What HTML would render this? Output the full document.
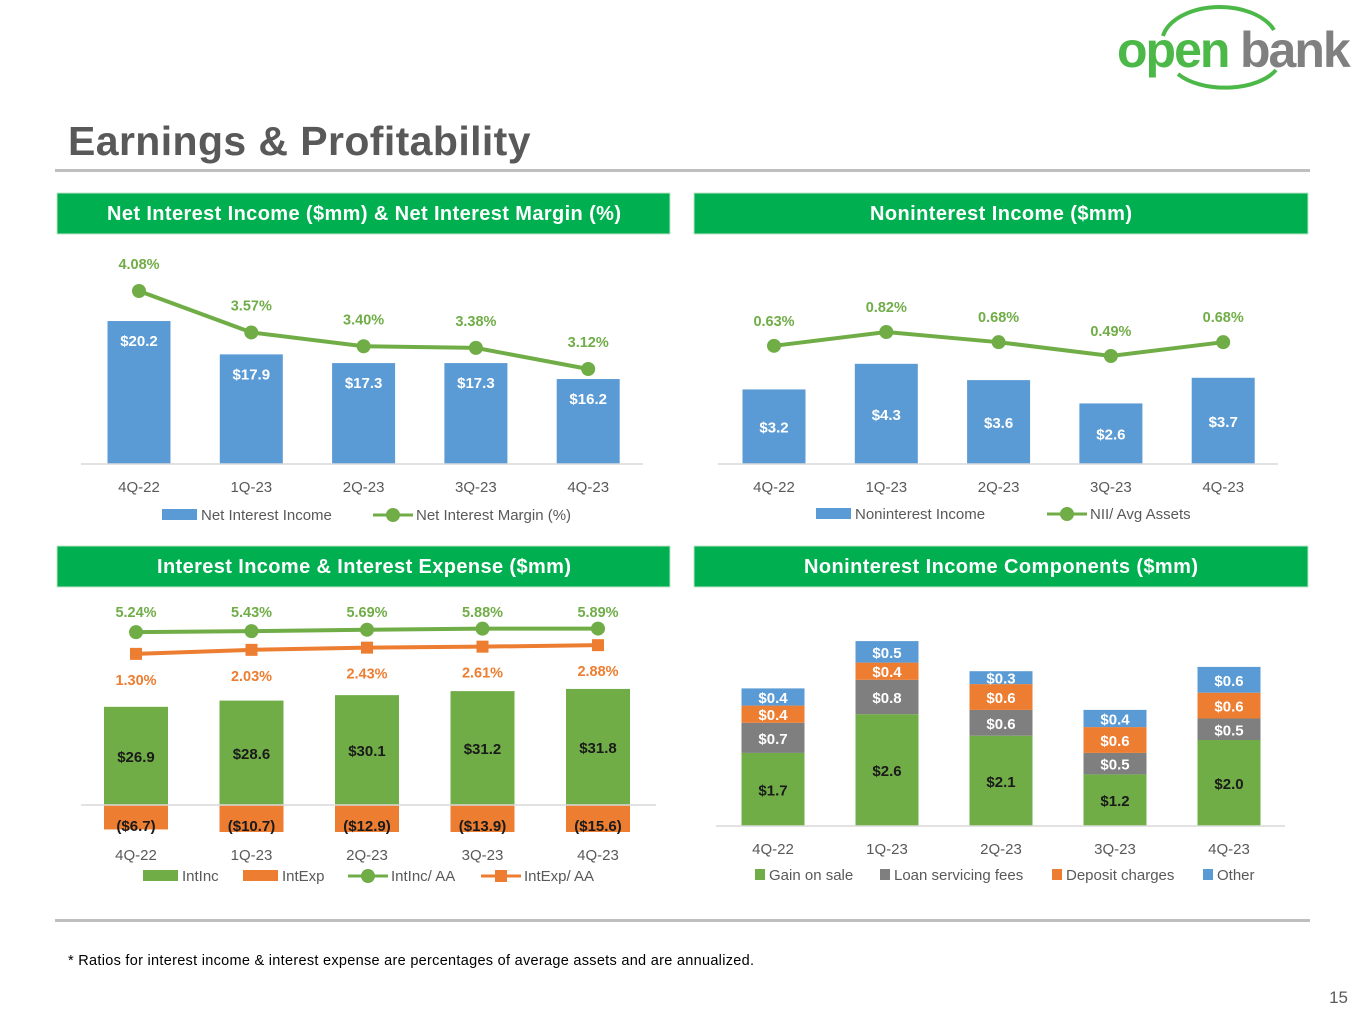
<!DOCTYPE html>
<html><head><meta charset="utf-8"><style>
body{margin:0;background:#fff;font-family:"Liberation Sans",sans-serif}
svg text{font-family:"Liberation Sans",sans-serif}
</style></head><body>
<svg id="s" width="1365" height="1024" viewBox="0 0 1365 1024" xmlns="http://www.w3.org/2000/svg">
<g>
<path d="M1163 36 A58 36 0 0 1 1274 30" fill="none" stroke="#4cb848" stroke-width="4"/>
<path d="M1178 74 A56 30 0 0 0 1276 70" fill="none" stroke="#4cb848" stroke-width="4"/>
<text x="1117" y="67" font-size="50" font-weight="bold" fill="#4cb848" letter-spacing="-2">open</text>
<text x="1240" y="67" font-size="50" font-weight="bold" fill="#808080" letter-spacing="-2">bank</text>
</g>
<text x="68" y="155" font-size="41" font-weight="bold" fill="#595959" letter-spacing="0.4">Earnings &amp; Profitability</text>
<rect x="55" y="169" width="1255" height="3" fill="#bfbfbf"/>
<rect x="55" y="919" width="1255" height="3" fill="#bfbfbf"/>
<text x="68" y="965" font-size="14.5" fill="#000" textLength="686">* Ratios for interest income &amp; interest expense are percentages of average assets and are annualized.</text>
<text x="1348" y="1003" font-size="17" fill="#595959" text-anchor="end">15</text>
<g><rect x="57" y="193" width="613" height="41" fill="#00b050" stroke="#bfe5c9"/><text x="364" y="220" font-size="20" font-weight="bold" fill="#fff" text-anchor="middle" textLength="514">Net Interest Income ($mm) &amp; Net Interest Margin (%)</text></g>
<g><rect x="694" y="193" width="614" height="41" fill="#00b050" stroke="#bfe5c9"/><text x="1001" y="220" font-size="20" font-weight="bold" fill="#fff" text-anchor="middle" textLength="262">Noninterest Income ($mm)</text></g>
<g><rect x="57" y="546" width="613" height="41" fill="#00b050" stroke="#bfe5c9"/><text x="364" y="573" font-size="20" font-weight="bold" fill="#fff" text-anchor="middle" textLength="414">Interest Income &amp; Interest Expense ($mm)</text></g>
<g><rect x="694" y="546" width="614" height="41" fill="#00b050" stroke="#bfe5c9"/><text x="1001" y="573" font-size="20" font-weight="bold" fill="#fff" text-anchor="middle" textLength="394">Noninterest Income Components ($mm)</text></g>
</svg>
<script>
const categories=["4Q-22","1Q-23","2Q-23","3Q-23","4Q-23"];
const niiValues=[20.2,17.9,17.3,17.3,16.2];
const nimValues=[4.08,3.57,3.40,3.38,3.12];
const nonintValues=[3.2,4.3,3.6,2.6,3.7];
const niiAvgValues=[0.63,0.82,0.68,0.49,0.68];
const intIncValues=[26.9,28.6,30.1,31.2,31.8];
const intExpValues=[-6.7,-10.7,-12.9,-13.9,-15.6];
const intIncAAValues=[5.24,5.43,5.69,5.88,5.89];
const intExpAAValues=[1.30,2.03,2.43,2.61,2.88];
const gainValues=[1.7,2.6,2.1,1.2,2.0];
const servicingValues=[0.7,0.8,0.6,0.5,0.5];
const depositValues=[0.4,0.4,0.6,0.6,0.6];
const otherValues=[0.4,0.5,0.3,0.4,0.6];

const NS="http://www.w3.org/2000/svg",svg=document.getElementById('s');
const BLUE="#5b9bd5",GREEN="#70ad47",ORANGE="#ed7d31",GRAY="#7f7f7f";
function mk(tag,a,parent){const e=document.createElementNS(NS,tag);for(const k in a)e.setAttribute(k,a[k]);(parent||svg).appendChild(e);return e;}
function txt(x,y,s,a,parent){const e=mk('text',Object.assign({x:x,y:y,'text-anchor':'middle'},a),parent);e.textContent=s;return e;}
function money(v){return v<0?'($'+Math.abs(v).toFixed(1)+')':'$'+v.toFixed(1);}
function xScale(x0,step){return i=>x0+i*step;}
function axis(g,x1,x2,y,xs,ly){
  const l=mk('line',{x1:x1,x2:x2,y1:y,y2:y,stroke:'#d9d9d9','stroke-width':1.5},g);
  
  
  categories.forEach((c,i)=>{const t=txt(xs(i),ly,c,{'font-size':15,fill:'#595959'},g);
    
    });
}
function line(g,vals,xs,ys,color,name){
  const p=mk('polyline',{points:vals.map((v,i)=>xs(i)+','+ys(v)).join(' '),fill:'none',stroke:color,'stroke-width':4},g);
  
  
}
function dot(g,x,y,color,sq,name){
  const e=sq?mk('rect',{x:x-6,y:y-6,width:12,height:12,fill:color},g):mk('circle',{cx:x,cy:y,r:7,fill:color},g);
  
  
}
function legendBox(g,x,y,w,color,label,name){
  const r=mk('rect',{x:x,y:y-6,width:w,height:11,fill:color},g);
  
  
  const t=txt(x+w+4,y+5,label,{'font-size':15,fill:'#595959','text-anchor':'start'},g);
  
  
}
function legendLine(g,x,y,color,sq,label,name){
  const l=mk('line',{x1:x,x2:x+40,y1:y,y2:y,stroke:color,'stroke-width':3},g);
  
  
  dot(g,x+20,y,color,sq,name+'-marker');
  const t=txt(x+43,y+5,label,{'font-size':15,fill:'#595959','text-anchor':'start'},g);
  
  
}
function group(name){const g=mk('g',{});return g;}

// Chart 1
(function(){
  const g=group('nii-chart');
  const xs=xScale(139,112.3),base=464,ys=v=>base-(v-10.34)*14.5,ls=v=>291-(v-4.08)*81.25;
  niiValues.forEach((v,i)=>{const r=mk('rect',{x:xs(i)-31.5,y:ys(v),width:63,height:base-ys(v),fill:BLUE},g);
    
    
    txt(xs(i),ys(v)+25,money(v),{'font-size':15,'font-weight':'bold',fill:'#fff'},g);});
  axis(g,81,643,base,xs,492);
  line(g,nimValues,xs,ls,GREEN,'nim');
  nimValues.forEach((v,i)=>{dot(g,xs(i),ls(v),GREEN,false,'point-nim-'+categories[i]);
    txt(xs(i),ls(v)-22,v.toFixed(2)+'%',{'font-size':14.5,'font-weight':'bold',fill:GREEN},g);});
  legendBox(g,162,515,35,BLUE,'Net Interest Income','legend-nii');
  legendLine(g,373,515,GREEN,false,'Net Interest Margin (%)','legend-nim');
})();
// Chart 2
(function(){
  const g=group('nonint-chart');
  const xs=xScale(774,112.3),base=464,ys=v=>base-v*23.3,ls=v=>332-(v-0.82)*72.7;
  nonintValues.forEach((v,i)=>{const r=mk('rect',{x:xs(i)-31.5,y:ys(v),width:63,height:base-ys(v),fill:BLUE},g);
    
    
    txt(xs(i),(ys(v)+base)/2+6,money(v),{'font-size':15,'font-weight':'bold',fill:'#fff'},g);});
  axis(g,718,1278,base,xs,492);
  line(g,niiAvgValues,xs,ls,GREEN,'nii-avg-assets');
  niiAvgValues.forEach((v,i)=>{dot(g,xs(i),ls(v),GREEN,false,'point-nii-avg-'+categories[i]);
    txt(xs(i),ls(v)-20,v.toFixed(2)+'%',{'font-size':14.5,'font-weight':'bold',fill:GREEN},g);});
  legendBox(g,816,514,35,BLUE,'Noninterest Income','legend-nonint');
  legendLine(g,1047,514,GREEN,false,'NII/ Avg Assets','legend-nii-avg');
})();
// Chart 3
(function(){
  const g=group('intinc-chart');
  const xs=xScale(136,115.5),base=805,s=3.65,axMin=-7.4,ys=v=>base-Math.max(v,axMin)*s,ls=v=>661-v*5.5;
  intIncValues.forEach((v,i)=>{const r=mk('rect',{x:xs(i)-32,y:ys(v),width:64,height:base-ys(v),fill:GREEN},g);
    
    
    txt(xs(i),(ys(v)+base)/2+6,money(v),{'font-size':15,'font-weight':'bold',fill:'#1a1a1a'},g);});
  intExpValues.forEach((v,i)=>{const r=mk('rect',{x:xs(i)-32,y:base,width:64,height:ys(v)-base,fill:ORANGE},g);
    
    
    txt(xs(i),831,money(v),{'font-size':15,'font-weight':'bold',fill:'#1a1a1a'},g);});
  axis(g,81,656,base,xs,860);
  line(g,intIncAAValues,xs,ls,GREEN,'intinc-aa');
  line(g,intExpAAValues,xs,ls,ORANGE,'intexp-aa');
  intIncAAValues.forEach((v,i)=>{dot(g,xs(i),ls(v),GREEN,false,'point-intinc-aa-'+categories[i]);
    txt(xs(i),617,v.toFixed(2)+'%',{'font-size':14.5,'font-weight':'bold',fill:GREEN},g);});
  intExpAAValues.forEach((v,i)=>{dot(g,xs(i),ls(v),ORANGE,true,'point-intexp-aa-'+categories[i]);
    txt(xs(i),ls(v)+31,v.toFixed(2)+'%',{'font-size':14.5,'font-weight':'bold',fill:ORANGE},g);});
  legendBox(g,143,876,35,GREEN,'IntInc','legend-intinc');
  legendBox(g,243,876,35,ORANGE,'IntExp','legend-intexp');
  legendLine(g,348,876,GREEN,false,'IntInc/ AA','legend-intinc-aa');
  legendLine(g,481,876,ORANGE,true,'IntExp/ AA','legend-intexp-aa');
})();
// Chart 4
(function(){
  const g=group('components-chart');
  const xs=xScale(773,114),base=826,s=43;
  const series=[[gainValues,GREEN,'#1a1a1a','gain'],[servicingValues,GRAY,'#fff','servicing'],[depositValues,ORANGE,'#fff','deposit'],[otherValues,BLUE,'#fff','other']];
  categories.forEach((c,i)=>{let acc=0;
    series.forEach(([vals,col,tc,nm])=>{const v=vals[i],y1=base-acc*s,y0=base-(acc+v)*s;
      const r=mk('rect',{x:xs(i)-31.5,y:y0,width:63,height:y1-y0,fill:col},g);
      
      
      txt(xs(i),(y0+y1)/2+6,money(v),{'font-size':15,'font-weight':'bold',fill:tc},g);
      acc+=v;});});
  axis(g,716,1285,base,xs,854);
  legendBox(g,755,875,10,GREEN,'Gain on sale','legend-gain');
  legendBox(g,880,875,10,GRAY,'Loan servicing fees','legend-servicing');
  legendBox(g,1052,875,10,ORANGE,'Deposit charges','legend-deposit');
  legendBox(g,1203,875,10,BLUE,'Other','legend-other');
})();
</script>
</body></html>
